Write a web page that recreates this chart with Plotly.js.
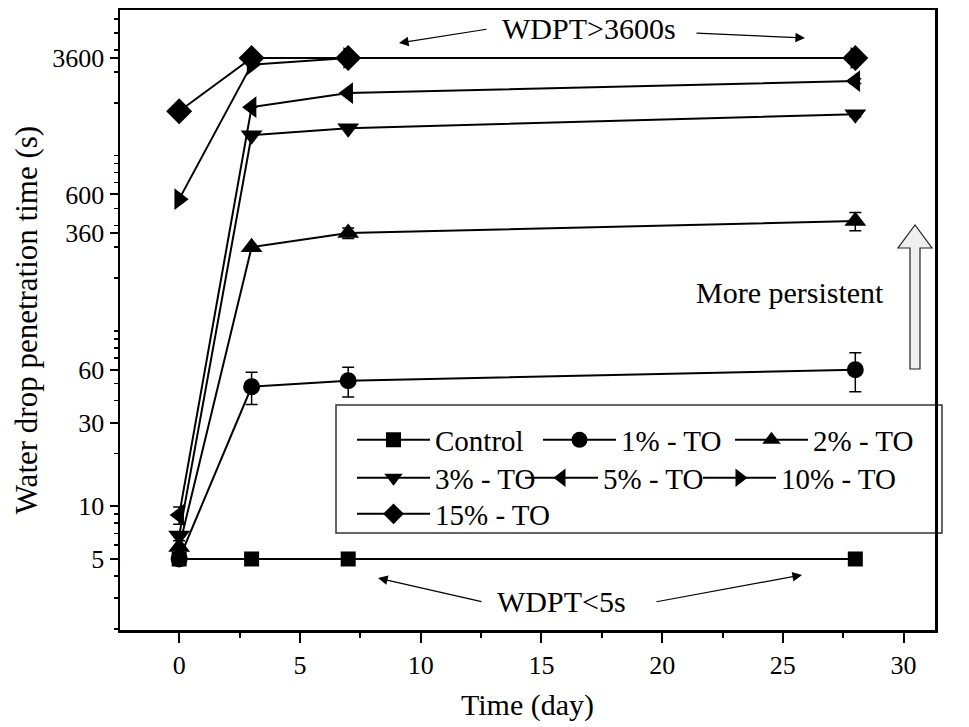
<!DOCTYPE html>
<html>
<head>
<meta charset="utf-8">
<script src="https://cdn.plot.ly/plotly-3.0.1.min.js"></script>
<style>html,body{margin:0;padding:0;background:#fff;}</style>
</head>
<body>
<div id="chart" style="width:969px;height:727px;"></div>
<script>
// ---- data ----
const days = [0, 3, 7, 28];
const seriesNames = ['Control', '1% - TO', '2% - TO', '3% - TO', '5% - TO', '10% - TO', '15% - TO'];
const control = [5, 5, 5, 5];
const to1 = [5, 48, 52, 60];
const to1Err = [0, 10, 10, 15];
const to2 = [5.85, 300, 361, 423];
const to2Err = [0.5, 0, 25, 50];
const to3 = [6.8, 1307, 1432, 1722];
const to3Err = [0, 0, 0, 60];
const to5 = [8.9, 1888, 2270, 2657];
const to5Err = [1, 0, 0, 80];
const to10 = [564, 3300, 3600, 3600];
const to15 = [1790, 3600, 3600, 3600];
const yTickVals = [5, 10, 30, 60, 360, 600, 3600];
const yTickText = ['5', '10', '30', '60', '360', '600', '3600'];
const xTickVals = [0, 5, 10, 15, 20, 25, 30];

const FONT = 'Liberation Serif';
const symbols = ['square', 'circle', 'triangle-up', 'triangle-down', 'triangle-left', 'triangle-right', 'diamond'];
const sizes = [15, 17, 19, 19, 19, 19, 20];
const values = [control, to1, to2, to3, to5, to10, to15];
const errs = [null, to1Err, to2Err, to3Err, to5Err, null, null];
const legendIds = ['legend', 'legend', 'legend', 'legend2', 'legend2', 'legend2', 'legend3'];
const legendWidths = [98, 104, 140, 80, 90, 140, 140];

const traces = values.map((v, i) => {
  const t = {
    x: days, y: v, name: seriesNames[i], type: 'scatter', mode: 'lines+markers',
    line: {color: '#000', width: 2},
    marker: {symbol: symbols[i], size: sizes[i], color: '#000'},
    legend: legendIds[i], legendwidth: legendWidths[i]
  };
  if (errs[i]) {
    t.error_y = {type: 'data', array: errs[i], visible: true, color: '#000', thickness: 1.5, width: 6};
  }
  return t;
});

// minor log ticks
const minorVals = [];
for (let p = 0; p <= 3; p++) {
  for (let k = 1; k <= 9; k++) {
    const v = k * Math.pow(10, p);
    if (yTickVals.indexOf(v) < 0) minorVals.push(v);
  }
}

// pixel helpers for paper coords (plot area: l=120, r=935, t=10, b=630)
const L = 120, R = 935, T = 10, B = 630;
const px = x => (x - L) / (R - L);
const py = y => (B - y) / (B - T);

const annFont = {family: FONT, size: 30, color: '#000'};
function arrow(hx, hy, tx, ty) {
  return {xref: 'paper', yref: 'paper', x: px(hx), y: py(hy), ax: tx - hx, ay: ty - hy,
          text: '', showarrow: true, arrowhead: 2, arrowsize: 1.6, arrowwidth: 1.2, arrowcolor: '#000'};
}
function label(text, x, y) {
  return {xref: 'paper', yref: 'paper', x: px(x), y: py(y), xanchor: 'center', yanchor: 'middle',
          text: text, showarrow: false, font: annFont};
}

const annotations = [
  label('WDPT&gt;3600s', 589, 29),
  label('WDPT&lt;5s', 561, 601),
  label('More persistent', 790, 292),
  arrow(399, 43, 488, 29),
  arrow(805, 38, 695, 33),
  arrow(378, 578, 483, 602),
  arrow(802, 575, 655, 602)
];

// block arrow "More persistent"
const bx = [910, 920, 898, 932], by = [225, 248, 369];
const blockPath = 'M' + px(bx[0]) + ',' + py(by[2]) +
  ' L' + px(bx[0]) + ',' + py(by[1]) +
  ' L' + px(bx[2]) + ',' + py(by[1]) +
  ' L' + px((bx[2] + bx[3]) / 2) + ',' + py(by[0]) +
  ' L' + px(bx[3]) + ',' + py(by[1]) +
  ' L' + px(bx[1]) + ',' + py(by[1]) +
  ' L' + px(bx[1]) + ',' + py(by[2]) + ' Z';

const shapes = [
  {type: 'rect', xref: 'paper', yref: 'paper', x0: px(336), x1: px(942), y0: py(533), y1: py(405),
   line: {color: '#333', width: 1.5}, fillcolor: 'rgba(255,255,255,1)', layer: 'below'},
  {type: 'path', xref: 'paper', yref: 'paper', path: blockPath,
   line: {color: '#222', width: 1.2}, fillcolor: '#efefef'}
];

const legFont = {family: FONT, size: 29, color: '#000'};
const legBase = {orientation: 'h', bgcolor: 'rgba(0,0,0,0)', borderwidth: 0, font: legFont,
                 itemwidth: 73, xanchor: 'left', yanchor: 'middle', itemclick: false};

const layout = {
  width: 969, height: 727,
  margin: {l: L, r: 969 - R, t: T, b: 727 - B, pad: 0},
  paper_bgcolor: '#fff', plot_bgcolor: 'rgba(0,0,0,0)',
  font: {family: FONT, color: '#000'},
  showlegend: true,
  xaxis: {
    range: [-2.45, 31.3], tickmode: 'array', tickvals: xTickVals,
    ticks: 'outside', ticklen: 10, tickwidth: 2, tickcolor: '#000',
    minor: {ticks: 'outside', ticklen: 5, tickwidth: 2, tickcolor: '#000', tickmode: 'linear', tick0: 0, dtick: 2.5},
    showline: true, linewidth: 2.5, linecolor: '#000', mirror: true,
    showgrid: false, zeroline: false,
    tickfont: {family: FONT, size: 26, color: '#000'},
    title: {text: 'Time (day)', font: {family: FONT, size: 30, color: '#000'}, standoff: 16}
  },
  yaxis: {
    type: 'log', range: [0.294, 3.83], tickmode: 'array', tickvals: yTickVals, ticktext: yTickText,
    ticks: 'outside', ticklen: 8, tickwidth: 2, tickcolor: '#000',
    minor: {ticks: 'outside', ticklen: 4, tickwidth: 1.5, tickcolor: '#000', tickmode: 'array', tickvals: minorVals},
    showline: true, linewidth: 2.5, linecolor: '#000', mirror: true,
    showgrid: false, zeroline: false,
    tickfont: {family: FONT, size: 26, color: '#000'},
    title: {text: 'Water drop penetration time (s)', font: {family: FONT, size: 31, color: '#000'}, standoff: 6}
  },
  legend: Object.assign({}, legBase, {x: px(352), y: py(440)}),
  legend2: Object.assign({}, legBase, {x: px(352), y: py(478)}),
  legend3: Object.assign({}, legBase, {x: px(352), y: py(514)}),
  annotations: annotations,
  shapes: shapes
};

Plotly.newPlot('chart', traces, layout, {displayModeBar: false, staticPlot: true});
</script>
</body>
</html>
